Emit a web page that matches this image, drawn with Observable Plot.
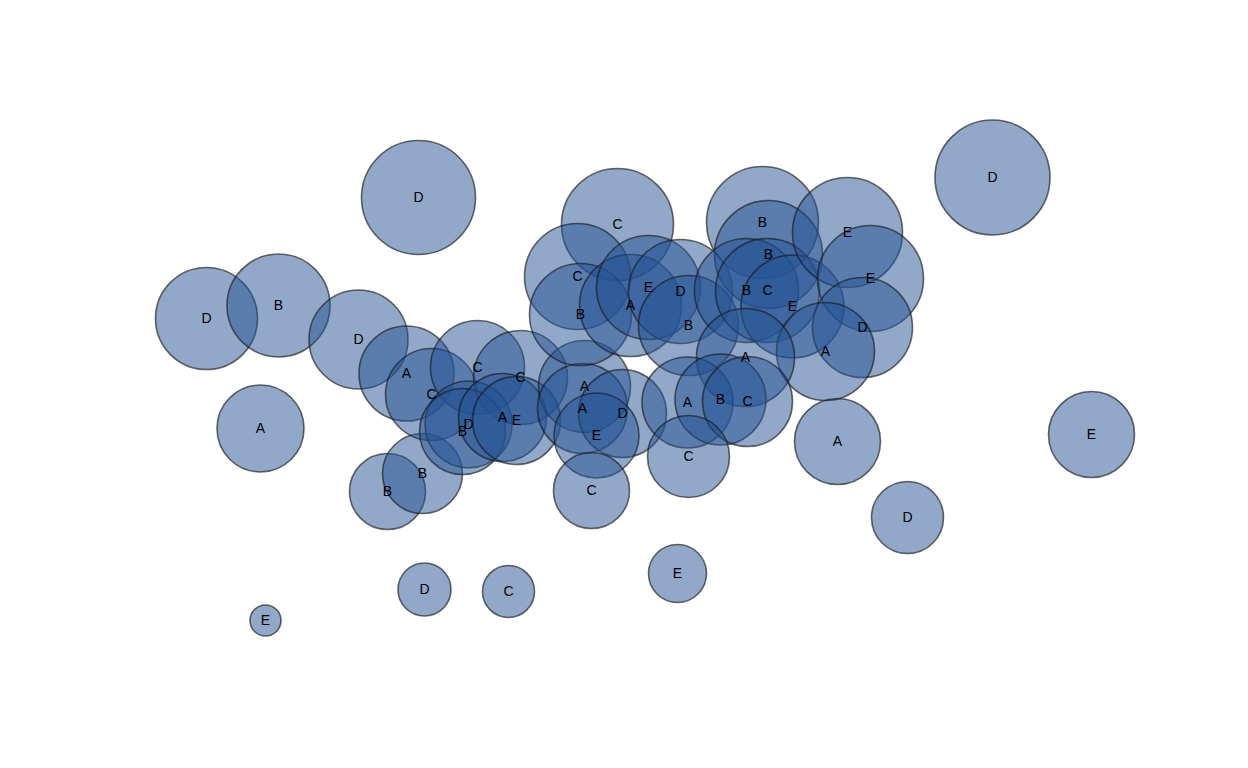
<!DOCTYPE html>
<html>
<head>
<meta charset="utf-8">
<script src="https://cdn.jsdelivr.net/npm/d3@7"></script>
<script src="https://cdn.jsdelivr.net/npm/@observablehq/plot@0.6"></script>
<style>
  html, body { margin: 0; padding: 0; background: #ffffff; }
  #chart { width: 1248px; height: 768px; }
</style>
</head>
<body>
<div id="chart"></div>
<script>
// Bubble data: category label, x value, y value, bubble size (radius units)
const labels = ["D","D","D","B","D","A","E","A","D","E","D","C","E","B","B","A","C","C","C","D","B","A","E","A","A","D","E","C","C","C","B","A","E","D","B","B","B","B","C","E","E","E","D","A","A","A","B","C","C"];
const xValues = [418,992,206,278,358,260,1091,837,907,677,424,508,265,387,422,406,431,477,520,468,462,502,516,584,582,622,596,591,617,577,580,630,648,680,688,762,768,746,767,792,847,870,862,825,745,687,720,747,688];
const yValues = [571,591,450,463,429,340,334,327,251,195,179,177,148,277,295,395,374,401,391,344,337,351,348,382,360,355,333,278,544,492,454,463,481,477,443,546,514,478,478,462,536,490,441,417,411,366,369,367,312];
const sizes = [57,57.5,51,51.5,49.5,43.5,43,43,36,29,26.5,26,15.5,38,40,47.5,46,47,47,43.5,43,44,44,46,45,44,42.5,38,56,53,51,51,52,52,50,56,54,52,52,51.5,55,53,50,49,49,45.5,45.5,45,41];

const data = labels.map((label, i) => ({label, x: xValues[i], y: yValues[i], size: sizes[i]}));

const chart = Plot.plot({
  width: 1248,
  height: 768,
  margin: 0,
  style: {background: "#ffffff", fontFamily: "'Liberation Sans', Arial, sans-serif"},
  x: {domain: [0, 1248], axis: null},
  y: {domain: [0, 768], axis: null},
  r: {type: "linear", domain: [0, 60], range: [0, 60]},
  marks: [
    Plot.dot(data, {
      x: "x", y: "y", r: "size",
      fill: "#235193", fillOpacity: 0.5,
      stroke: "#1a1a1a", strokeOpacity: 0.65, strokeWidth: 1.6,
      sort: null
    }),
    Plot.text(data, {
      x: "x", y: "y", text: "label",
      fill: "#000000", fontSize: 14,
      textAnchor: "middle", lineAnchor: "middle"
    })
  ]
});
document.getElementById("chart").appendChild(chart);
</script>
</body>
</html>
